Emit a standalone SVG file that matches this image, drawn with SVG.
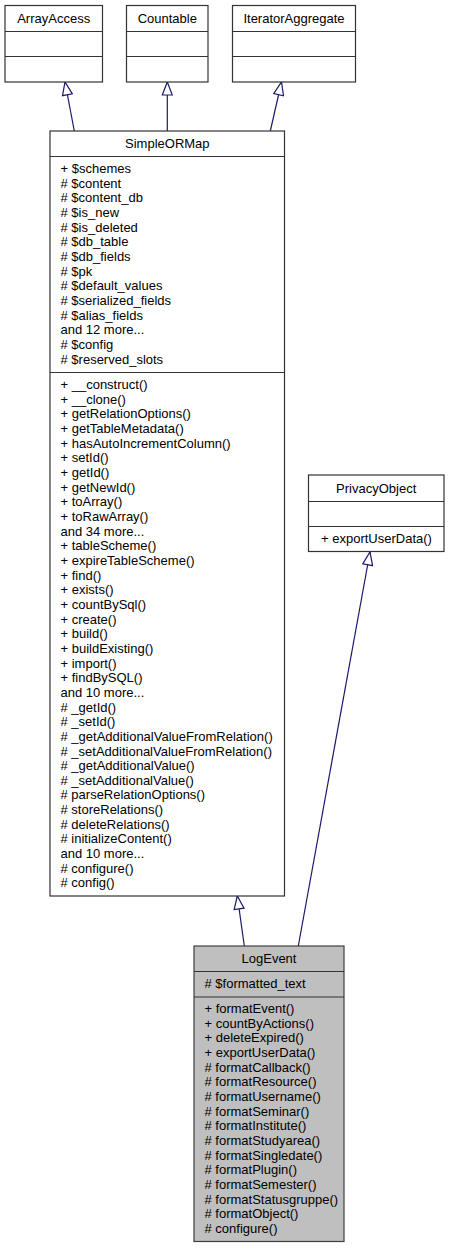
<svg xmlns="http://www.w3.org/2000/svg" width="449" height="1248" viewBox="0 0 449 1248">
<style>
  .box { fill: #ffffff; stroke: #333333; stroke-width: 1.2; }
  .cur { fill: #bfbfbf; stroke: #404040; stroke-width: 1.2; }
  .div { stroke: #333333; stroke-width: 1.2; fill: none; }
  .t { font-family: "Liberation Sans", Arial, Helvetica, sans-serif; font-size: 13px; fill: #000000; }
  .n { text-anchor: middle; }
  .edge { stroke: #191970; stroke-width: 1.2; fill: none; marker-end: url(#inh); }
</style>
<defs>
  <marker id="inh" markerUnits="userSpaceOnUse" markerWidth="16" markerHeight="12" viewBox="-1 -6 16 12" refX="13" refY="0" orient="auto">
    <path d="M0,-5 L13,0 L0,5 Z" fill="#ffffff" stroke="#191970" stroke-width="1.2"/>
  </marker>
</defs>
<rect width="449" height="1248" fill="#ffffff"/>

<g id="connectors">
  <path class="edge" d="M74.3,131 L65,82"/>
  <path class="edge" d="M167.3,131 L167.3,82"/>
  <path class="edge" d="M270.3,131 L281.5,82"/>
  <path class="edge" d="M244.3,946 L237.3,896"/>
  <path class="edge" d="M298.3,946 L370,552"/>
</g>

<g id="ArrayAccess">
  <rect class="box" x="5" y="5.5" width="97.5" height="76.5"/>
  <path class="div" d="M5,31.5 H102.5 M5,56.5 H102.5"/>
  <text class="t n" x="53.7" y="22.5">ArrayAccess</text>
</g>

<g id="Countable">
  <rect class="box" x="126.5" y="5.5" width="81.5" height="76.5"/>
  <path class="div" d="M126.5,31.5 H208 M126.5,56.5 H208"/>
  <text class="t n" x="167.3" y="22.5">Countable</text>
</g>

<g id="IteratorAggregate">
  <rect class="box" x="232.5" y="5.5" width="123" height="76.5"/>
  <path class="div" d="M232.5,31.5 H355.5 M232.5,56.5 H355.5"/>
  <text class="t n" x="294" y="22.5">IteratorAggregate</text>
</g>

<g id="SimpleORMap">
  <rect class="box" x="50" y="131" width="234.5" height="765"/>
  <path class="div" d="M50,156.5 H284.5 M50,372.5 H284.5"/>
  <text class="t n" x="167.3" y="147.5">SimpleORMap</text>
  <text class="t" x="60.5" y="173">
    <tspan x="60.5" y="173">+ $schemes</tspan>
    <tspan x="60.5" dy="14.66"># $content</tspan>
    <tspan x="60.5" dy="14.66"># $content_db</tspan>
    <tspan x="60.5" dy="14.66"># $is_new</tspan>
    <tspan x="60.5" dy="14.66"># $is_deleted</tspan>
    <tspan x="60.5" dy="14.66"># $db_table</tspan>
    <tspan x="60.5" dy="14.66"># $db_fields</tspan>
    <tspan x="60.5" dy="14.66"># $pk</tspan>
    <tspan x="60.5" dy="14.66"># $default_values</tspan>
    <tspan x="60.5" dy="14.66"># $serialized_fields</tspan>
    <tspan x="60.5" dy="14.66"># $alias_fields</tspan>
    <tspan x="60.5" dy="14.66">and 12 more...</tspan>
    <tspan x="60.5" dy="14.66"># $config</tspan>
    <tspan x="60.5" dy="14.66"># $reserved_slots</tspan>
  </text>
  <text class="t" x="60.5" y="389">
    <tspan x="60.5" y="389">+ __construct()</tspan>
    <tspan x="60.5" dy="14.66">+ __clone()</tspan>
    <tspan x="60.5" dy="14.66">+ getRelationOptions()</tspan>
    <tspan x="60.5" dy="14.66">+ getTableMetadata()</tspan>
    <tspan x="60.5" dy="14.66">+ hasAutoIncrementColumn()</tspan>
    <tspan x="60.5" dy="14.66">+ setId()</tspan>
    <tspan x="60.5" dy="14.66">+ getId()</tspan>
    <tspan x="60.5" dy="14.66">+ getNewId()</tspan>
    <tspan x="60.5" dy="14.66">+ toArray()</tspan>
    <tspan x="60.5" dy="14.66">+ toRawArray()</tspan>
    <tspan x="60.5" dy="14.66">and 34 more...</tspan>
    <tspan x="60.5" dy="14.66">+ tableScheme()</tspan>
    <tspan x="60.5" dy="14.66">+ expireTableScheme()</tspan>
    <tspan x="60.5" dy="14.66">+ find()</tspan>
    <tspan x="60.5" dy="14.66">+ exists()</tspan>
    <tspan x="60.5" dy="14.66">+ countBySql()</tspan>
    <tspan x="60.5" dy="14.66">+ create()</tspan>
    <tspan x="60.5" dy="14.66">+ build()</tspan>
    <tspan x="60.5" dy="14.66">+ buildExisting()</tspan>
    <tspan x="60.5" dy="14.66">+ import()</tspan>
    <tspan x="60.5" dy="14.66">+ findBySQL()</tspan>
    <tspan x="60.5" dy="14.66">and 10 more...</tspan>
    <tspan x="60.5" dy="14.66"># _getId()</tspan>
    <tspan x="60.5" dy="14.66"># _setId()</tspan>
    <tspan x="60.5" dy="14.66"># _getAdditionalValueFromRelation()</tspan>
    <tspan x="60.5" dy="14.66"># _setAdditionalValueFromRelation()</tspan>
    <tspan x="60.5" dy="14.66"># _getAdditionalValue()</tspan>
    <tspan x="60.5" dy="14.66"># _setAdditionalValue()</tspan>
    <tspan x="60.5" dy="14.66"># parseRelationOptions()</tspan>
    <tspan x="60.5" dy="14.66"># storeRelations()</tspan>
    <tspan x="60.5" dy="14.66"># deleteRelations()</tspan>
    <tspan x="60.5" dy="14.66"># initializeContent()</tspan>
    <tspan x="60.5" dy="14.66">and 10 more...</tspan>
    <tspan x="60.5" dy="14.66"># configure()</tspan>
    <tspan x="60.5" dy="14.66"># config()</tspan>
  </text>
</g>

<g id="PrivacyObject">
  <rect class="box" x="308.5" y="475" width="135.5" height="76.5"/>
  <path class="div" d="M308.5,501.5 H444 M308.5,526.5 H444"/>
  <text class="t n" x="376.2" y="492.5">PrivacyObject</text>
  <text class="t" x="321" y="543.3">+ exportUserData()</text>
</g>

<g id="LogEvent">
  <rect class="cur" x="194" y="946" width="150" height="295.5"/>
  <path class="div" d="M194,971.5 H344 M194,997 H344"/>
  <text class="t n" x="269" y="962.5">LogEvent</text>
  <text class="t" x="204.5" y="988"># $formatted_text</text>
  <text class="t" x="204.5" y="1013">
    <tspan x="204.5" y="1013">+ formatEvent()</tspan>
    <tspan x="204.5" dy="14.66">+ countByActions()</tspan>
    <tspan x="204.5" dy="14.66">+ deleteExpired()</tspan>
    <tspan x="204.5" dy="14.66">+ exportUserData()</tspan>
    <tspan x="204.5" dy="14.66"># formatCallback()</tspan>
    <tspan x="204.5" dy="14.66"># formatResource()</tspan>
    <tspan x="204.5" dy="14.66"># formatUsername()</tspan>
    <tspan x="204.5" dy="14.66"># formatSeminar()</tspan>
    <tspan x="204.5" dy="14.66"># formatInstitute()</tspan>
    <tspan x="204.5" dy="14.66"># formatStudyarea()</tspan>
    <tspan x="204.5" dy="14.66"># formatSingledate()</tspan>
    <tspan x="204.5" dy="14.66"># formatPlugin()</tspan>
    <tspan x="204.5" dy="14.66"># formatSemester()</tspan>
    <tspan x="204.5" dy="14.66"># formatStatusgruppe()</tspan>
    <tspan x="204.5" dy="14.66"># formatObject()</tspan>
    <tspan x="204.5" dy="14.66"># configure()</tspan>
  </text>
</g>
</svg>
